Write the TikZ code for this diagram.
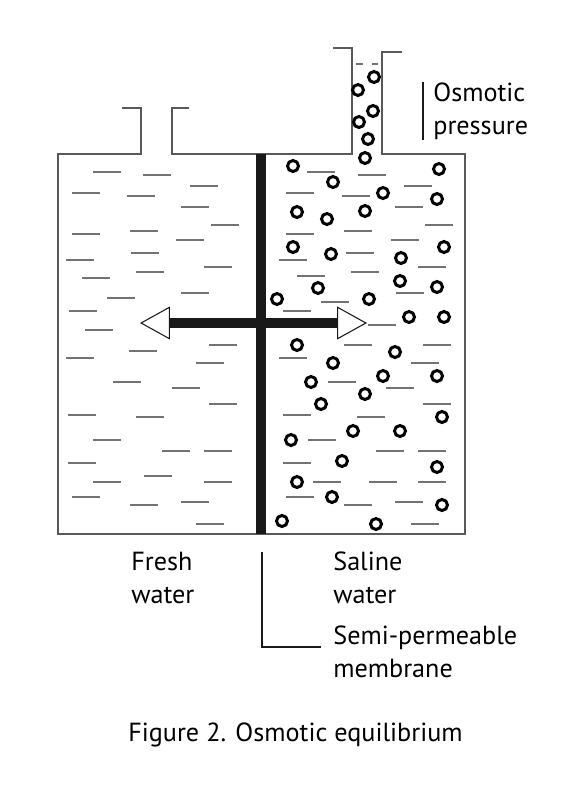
\documentclass[tikz,border=0pt]{standalone}
\usepackage{fontspec}
\setmainfont{PT Sans}
\usetikzlibrary{arrows.meta}

\begin{document}
\begin{tikzpicture}[x = 0.02cm, y = -0.02cm,
	wall/.style = {draw = black!65, line width = 0.7pt},
	dashline/.style = {draw = black!55, line width = 0.85pt},
	salt/.style = {draw = black, line width = 1.7pt},
	membrane/.style = {draw = black!90, line width = 6.2pt},
	pointer/.style = {draw = black!90, line width = 1.2pt},
	label/.style = {anchor = west, align = left, inner sep = 0,
		font = \fontsize{14.9}{18.8}\selectfont}]
	\useasboundingbox (0,0) rectangle (583,789);
	
	% vessel with the two tubes
	\draw[wall] (122,108) -- (141,108) -- (141,154) -- (58,154) -- (58,534)
		-- (465,534) -- (465,154) -- (382,154) -- (382,52) -- (402,52);
	\draw[wall] (189,108) -- (172,108) -- (172,154) -- (352,154) -- (352,48) -- (333,48);
	\draw[dashline] (356,64) -- (363,64) (372,64) -- (378,64);
	
	% water
	\foreach \x/\y in {93/172, 143/175, 190/186, 72/193, 127/196, 181/207, 211/225,
		72/234, 130/231, 176/240, 131/253, 66/260, 204/267, 136/272, 82/278, 181/293,
		107/298, 69/311, 85/330, 209/345, 129/351, 66/358, 196/363, 113/382, 172/388,
		209/404, 68/415, 136/417, 93/440, 162/451, 204/451, 68/463, 144/476, 93/482,
		204/482, 72/497, 130/505, 181/502, 196/524}
		\draw[dashline] (\x,\y) -- ++(28,0);
	\foreach \x/\y in {307/172, 358/175, 404/186, 286/193, 342/196, 395/207, 425/225,
		286/234, 344/231, 391/240, 346/253, 279/260, 418/267, 351/272, 297/276, 396/293,
		321/302, 283/311, 368/325, 344/345, 423/345, 279/358, 411/363, 328/382, 386/388,
		423/404, 283/415, 357/417, 308/440, 376/451, 418/451, 283/463, 313/482, 369/482,
		418/482, 286/497, 344/505, 395/502, 411/524}
		\draw[dashline] (\x,\y) -- ++(28,0);
	
	% salt
	\foreach \x/\y in {374/77, 358/90, 373/111, 359/122, 368/139, 365/158,
		293/166, 439/169, 333/182, 383/193, 437/199, 297/212, 327/219, 365/211,
		293/247, 331/254, 401/258, 444/247, 400/281, 437/287, 318/288, 277/299,
		369/299, 409/317, 444/317, 297/345, 395/352, 333/363, 311/382, 383/376,
		437/376, 365/394, 321/404, 442/417, 291/440, 353/431, 400/431, 342/461,
		437/467, 297/482, 332/497, 442/505, 282/521, 376/524}
		\draw[salt] (\x,\y) circle[radius = 0.11cm];
	
	% membrane and flow
	\coordinate (memtop) at (261,154);
	\coordinate (membot) at (261,534);
	\draw[membrane] (memtop) -- (membot);
	\coordinate (flowleft) at (140,323);
	\coordinate (flowright) at (367,323);
	\draw[membrane, {Triangle[fill = white, length = 0.6cm 0 0, width = 0.66cm 0 0,
		line width = 0.6pt 0 0]}-{Triangle[fill = white, length = 0.6cm 0 0,
		width = 0.66cm 0 0, line width = 0.6pt 0 0]}] (flowleft) -- (flowright);
	
	% labels
	\node[label] (fresh) at (131,578) {Fresh\\water};
	\node[label] (saline) at (333,578) {Saline\\water};
	\node[label] (semi) at (333,652) {Semi-permeable\\membrane};
	\node[label] (osmotic) at (433,111) {Osmotic\\pressure};
	\node[label] (caption) at (128,735) {Figure 2. Osmotic equilibrium};
	
	\coordinate (pointtop) at (262,552);
	\draw[pointer] (pointtop) |- ([xshift = -0.24cm, yshift = 0.1cm]semi.west);
	\draw[pointer] ([xshift = -0.2cm]osmotic.north west) -- ([xshift = -0.2cm]osmotic.south west);
\end{tikzpicture}
\end{document}
